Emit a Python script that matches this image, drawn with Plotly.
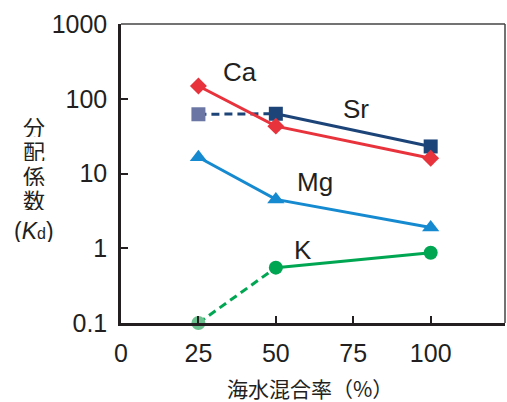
import plotly.graph_objects as go
import math

# ---- data ----
mix_rate = [25, 50, 100]
ca_kd = [148, 43, 16]
sr_kd = [62, 63, 23]
mg_kd = [16.5, 4.5, 1.9]
k_kd = [0.1, 0.55, 0.87]

x_ticks = [0, 25, 50, 75, 100]
y_ticks = [0.1, 1, 10, 100, 1000]
y_tick_labels = ["0.1", "1", "10", "100", "1000"]

# ---- styles ----
RED = "#e8323c"
NAVY = "#1d4479"
NAVY_FADE = "#6b76a5"
BLUE = "#168ad0"
GREEN = "#00a652"
GREEN_FADE = "#6cc28e"
LW = 3
DASH = "8px,5px"

fig = go.Figure()

# Sr: dashed 25-50 then solid 50-100
fig.add_trace(go.Scatter(x=mix_rate[:2], y=sr_kd[:2], mode="lines",
                         line=dict(color=NAVY, width=LW, dash=DASH), cliponaxis=False))
fig.add_trace(go.Scatter(x=mix_rate[1:], y=sr_kd[1:], mode="lines+markers",
                         line=dict(color=NAVY, width=LW),
                         marker=dict(symbol="square", size=14, color=NAVY), cliponaxis=False))
fig.add_trace(go.Scatter(x=mix_rate[:1], y=sr_kd[:1], mode="markers",
                         marker=dict(symbol="square", size=14, color=NAVY_FADE), cliponaxis=False))

# Ca
fig.add_trace(go.Scatter(x=mix_rate, y=ca_kd, mode="lines+markers",
                         line=dict(color=RED, width=LW),
                         marker=dict(symbol="diamond", size=13, color=RED), cliponaxis=False))

# Mg
fig.add_trace(go.Scatter(x=mix_rate, y=mg_kd, mode="lines+markers",
                         line=dict(color=BLUE, width=LW),
                         marker=dict(symbol="triangle-up", size=15, color=BLUE), cliponaxis=False))

# K: dashed 25-50 then solid
fig.add_trace(go.Scatter(x=mix_rate[:2], y=k_kd[:2], mode="lines",
                         line=dict(color=GREEN, width=LW, dash=DASH), cliponaxis=False))
fig.add_trace(go.Scatter(x=mix_rate[1:], y=k_kd[1:], mode="lines+markers",
                         line=dict(color=GREEN, width=LW),
                         marker=dict(symbol="circle", size=14, color=GREEN), cliponaxis=False))
fig.add_trace(go.Scatter(x=mix_rate[:1], y=k_kd[:1], mode="markers",
                         marker=dict(symbol="circle", size=14, color=GREEN_FADE), cliponaxis=False))

LAT = "Liberation Sans, Arial, sans-serif"
JP = "Noto Sans CJK JP"
AX = "#231f20"

# series labels (data coords; log axis uses log10 for annotations)
labels = [("Ca", 38.5, 225), ("Sr", 76, 74), ("Mg", 62.5, 7.6), ("K", 58.8, 0.95)]
for txt, lx, ly in labels:
    fig.add_annotation(x=lx, y=math.log10(ly), text=txt, showarrow=False,
                       xanchor="center", yanchor="middle",
                       font=dict(family=LAT, size=26, color=AX))

# y title, stacked vertically
y_title_chars = ["分", "配", "係", "数"]
plot_top, plot_h = 24, 299
plot_left, plot_w = 121, 384
for i, ch in enumerate(y_title_chars):
    ypx = 125 + i * 24.5
    fig.add_annotation(xref="paper", yref="paper",
                       x=(34 - plot_left) / plot_w, y=(plot_top + plot_h - ypx) / plot_h,
                       xanchor="center", yanchor="middle", height=23,
                       text=ch, showarrow=False, font=dict(family=JP, size=22, color=AX))
fig.add_annotation(xref="paper", yref="paper",
                   x=(34 - plot_left) / plot_w, y=(plot_top + plot_h - 230) / plot_h,
                   xanchor="center", yanchor="middle", height=23,
                   text="(<i>K</i><span style='font-size:16px'>d</span>)", showarrow=False,
                   font=dict(family=LAT, size=23, color=AX))

# x title
fig.add_annotation(xref="paper", yref="paper",
                   x=(310 - plot_left) / plot_w, y=(plot_top + plot_h - 388) / plot_h,
                   xanchor="center", yanchor="middle",
                   text="海水混合率（%）", showarrow=False,
                   font=dict(family=JP, size=21, color=AX))

# top and right frame lines (thinner)
fig.add_shape(type="line", xref="paper", yref="paper", x0=0, x1=1, y0=1, y1=1,
              line=dict(color="#444", width=1.5))
fig.add_shape(type="line", xref="paper", yref="paper", x0=1, x1=1, y0=0, y1=1,
              line=dict(color="#444", width=1.5))

fig.update_xaxes(range=[0, 124], tickvals=x_ticks, ticks="inside", ticklen=7,
                 tickwidth=1.5, tickcolor=AX, showline=True, linecolor=AX, linewidth=2.5,
                 showgrid=False, zeroline=False,
                 tickfont=dict(family=LAT, size=25, color=AX), ticklabelstandoff=6)
fig.update_yaxes(type="log", range=[-1, 3], tickvals=y_ticks, ticktext=y_tick_labels,
                 ticks="inside", ticklen=7, tickwidth=1.5, tickcolor=AX,
                 showline=True, linecolor=AX, linewidth=2.5, showgrid=False, zeroline=False,
                 tickfont=dict(family=LAT, size=25, color=AX), ticklabelstandoff=6)

fig.update_layout(width=507, height=402, showlegend=False,
                  margin=dict(l=121, r=2, t=24, b=79, autoexpand=False),
                  paper_bgcolor="white", plot_bgcolor="white")

post = ("document.body.style.margin='0';document.body.style.padding='0';"
        "var gd=document.getElementById('{plot_id}');"
        "Plotly.relayout(gd,{width:507,height:402});")
fig.write_html("out.html", config={"responsive": False, "displayModeBar": False},
               post_script=post)
